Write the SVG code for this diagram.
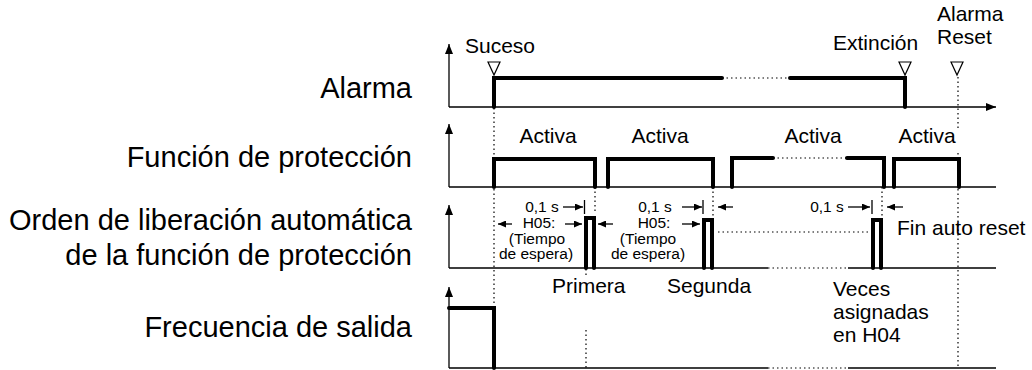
<svg xmlns="http://www.w3.org/2000/svg" width="1032" height="370" viewBox="0 0 1032 370">
<defs>
<marker id="ax" markerUnits="userSpaceOnUse" markerWidth="10" markerHeight="8" refX="10" refY="4" orient="auto"><path d="M0,0 L10,4 L0,8 z" fill="#000"/></marker>
<marker id="sa" markerUnits="userSpaceOnUse" markerWidth="8" markerHeight="7" refX="8" refY="3.5" orient="auto"><path d="M0,0 L8,3.5 L0,7 z" fill="#000"/></marker>
</defs>
<style>
.big{font-family:"Liberation Sans",Arial,sans-serif;font-size:29px;fill:#000;text-anchor:end}
.lb{font-family:"Liberation Sans",Arial,sans-serif;font-size:21px;fill:#000}
.sm{font-family:"Liberation Sans",Arial,sans-serif;font-size:15.5px;fill:#000;text-anchor:middle}
.axis{stroke:#000;stroke-width:1.3;fill:none}
.sig{stroke:#000;stroke-width:4;fill:none;stroke-linecap:round;stroke-linejoin:miter}
.dot{stroke:#000;stroke-width:1.2;fill:none;stroke-dasharray:1.5 3}
.tri{fill:#fff;stroke:#000;stroke-width:1.2}
.ann{stroke:#000;stroke-width:1.3;fill:none}
</style>
<rect width="1032" height="370" fill="#fff"/>

<g id="labels">
<text class="big" x="412" y="98">Alarma</text>
<text class="big" x="412" y="167">Función de protección</text>
<text class="big" x="412" y="230">Orden de liberación automática</text>
<text class="big" x="412" y="265">de la función de protección</text>
<text class="big" x="412" y="337">Frecuencia de salida</text>
</g>

<g id="connectors">
<path class="dot" d="M494,108 V306"/>
<path class="dot" d="M958,77 V130 M958,153 V368"/>
<path class="dot" d="M595,187 V214"/>
<path class="dot" d="M713,187 V216"/>
<path class="dot" d="M882,187 V216"/>
<path class="dot" d="M586,269 V278 M586,330 V368"/>
<path class="dot" d="M722,78 H790"/>
<path class="dot" d="M773,158 H847" stroke="#666"/>
<path class="dot" d="M718,232 H868"/>
<path class="dot" d="M768,268 H848"/>
<path class="dot" d="M768,368 H848"/>
</g>

<g id="row-alarma">
<path class="axis" d="M449,107 V44" marker-end="url(#ax)"/>
<path class="axis" d="M449,107 H996" marker-end="url(#ax)"/>
<path class="sig" d="M494,107 V78 H722"/>
<path class="sig" d="M790,78 H905 V107"/>
<polygon class="tri" points="488,62 500,62 494,75"/>
<polygon class="tri" points="899,62 911,62 905,75"/>
<polygon class="tri" points="951,62 963,62 957,75"/>
<text class="lb" x="465" y="53">Suceso</text>
<text class="lb" x="833" y="50">Extinción</text>
<text class="lb" x="937" y="21">Alarma</text>
<text class="lb" x="937" y="44">Reset</text>
</g>

<g id="row-funcion">
<path class="axis" d="M449,187 V124" marker-end="url(#ax)"/>
<path class="axis" d="M449,187 H996"/>
<path class="sig" d="M494,187 V159 H595 V187"/>
<path class="sig" d="M608,187 V159 H713 V187"/>
<path class="sig" d="M732,187 V158 H773"/>
<path class="sig" d="M847,158 H884 V187"/>
<path class="sig" d="M894,187 V159 H959 V187"/>
<text class="lb" x="548" y="143" text-anchor="middle">Activa</text>
<text class="lb" x="660" y="143" text-anchor="middle">Activa</text>
<text class="lb" x="813" y="143" text-anchor="middle">Activa</text>
<text class="lb" x="927" y="143" text-anchor="middle">Activa</text>
</g>

<g id="row-orden">
<path class="axis" d="M449,268 V205" marker-end="url(#ax)"/>
<path class="axis" d="M449,268 H768 M848,268 H996"/>
<path class="sig" d="M586,268 V218 H594 V268"/>
<path class="sig" d="M704,268 V220 H712 V268"/>
<path class="sig" d="M873,268 V220 H881 V268"/>
<text class="lb" x="897" y="235">Fin auto reset</text>
</g>

<g id="ann-1">
<text class="sm" x="542" y="212" font-size="17">0,1 s</text>
<path class="ann" d="M563,207 H583" marker-end="url(#sa)"/>
<path class="ann" d="M584.5,200 V214"/>
<path class="ann" d="M512,224 H498" marker-end="url(#sa)"/>
<path class="ann" d="M565,224 H582" marker-end="url(#sa)"/>
<text class="sm" x="539" y="228">H05:</text>
<text class="sm" x="537" y="244">(Tiempo</text>
<text class="sm" x="536" y="259">de espera)</text>
</g>

<g id="ann-2">
<text class="sm" x="655" y="212" font-size="17">0,1 s</text>
<path class="ann" d="M682,207 H702" marker-end="url(#sa)"/>
<path class="ann" d="M703,200 V214"/>
<path class="ann" d="M733,207 H718" marker-end="url(#sa)"/>
<path class="ann" d="M613,224 H598" marker-end="url(#sa)"/>
<path class="ann" d="M682,224 H700" marker-end="url(#sa)"/>
<text class="sm" x="654" y="228">H05:</text>
<text class="sm" x="648" y="244">(Tiempo</text>
<text class="sm" x="648" y="259">de espera)</text>
</g>

<g id="ann-3">
<text class="sm" x="827" y="212" font-size="17">0,1 s</text>
<path class="ann" d="M848,207 H870" marker-end="url(#sa)"/>
<path class="ann" d="M872,200 V214"/>
<path class="ann" d="M903,207 H887" marker-end="url(#sa)"/>
</g>

<g id="row-frecuencia">
<path class="axis" d="M449,368 V287" marker-end="url(#ax)"/>
<path class="axis" d="M449,368 H768 M848,368 H996"/>
<path class="sig" d="M449,308 H494 V368"/>
<text class="lb" x="552" y="293">Primera</text>
<text class="lb" x="667" y="293">Segunda</text>
<text class="lb" x="833" y="296">Veces</text>
<text class="lb" x="833" y="319">asignadas</text>
<text class="lb" x="833" y="342">en H04</text>
</g>
</svg>
